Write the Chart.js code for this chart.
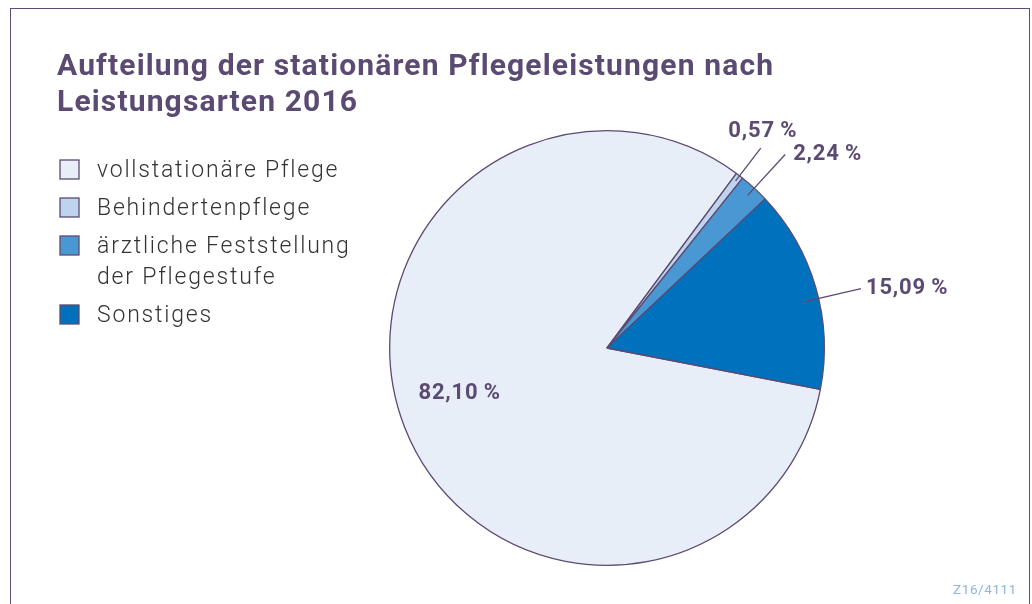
<!DOCTYPE html>
<html>
<head>
<meta charset="utf-8">
<script src="https://cdn.jsdelivr.net/npm/chart.js@4/dist/chart.umd.min.js"></script>
<style>
  body { margin: 0; background: #fff; }
  .wrap { position: relative; width: 1032px; height: 604px; }
  .frame { position: absolute; left: 10px; top: 8px; width: 1018px; height: 600px;
           border: 1.5px solid #5e4b78; border-bottom: none; }
  canvas { position: absolute; left: 0; top: 0; }
  .code { position: absolute; right: 15px; top: 581px; font: 13.5px Roboto, sans-serif;
          letter-spacing: 0.6px; color: #8fb4e0; }
</style>
</head>
<body>
<div class="wrap">
  <div class="frame"></div>
  <canvas id="myChart" width="1032" height="604"></canvas>
  <div class="code">Z16/4111</div>
</div>
<script>
const titleLines = ['Aufteilung der stationären Pflegeleistungen nach', 'Leistungsarten 2016'];
const categories = ['vollstationäre Pflege', 'Behindertenpflege', 'ärztliche Feststellung\nder Pflegestufe', 'Sonstiges'];
const shares = [82.10, 0.57, 2.24, 15.09];
const colors = ['#e8eef8', '#bed3ee', '#4a98d3', '#0071bc'];

const purple = '#5b4a72';

function fmt(v) {
  return v.toFixed(2).replace('.', ',') + '\u2009%';
}

// where each value label goes (inside or with a leader line)
const spots = [
  { inside: true, r: 0.71, turn: 4 },
  { r1: 0.97, r2: 1.16, dx: 2, dy: -17, align: 'center' },
  { r1: 0.955, r2: 1.21, dx: 8, dy: 0, align: 'left' },
  { r1: 0.93, r2: 1.2, dx: 5, dy: 0, align: 'left', turn: 3 }
];

const decor = {
  id: 'decor',
  afterDraw(chart) {
    const ctx = chart.ctx;
    ctx.save();

    // title
    ctx.fillStyle = purple;
    ctx.font = 'bold 30px Roboto';
    ctx.letterSpacing = '1.15px';
    ctx.textBaseline = 'middle';
    ctx.textAlign = 'left';
    titleLines.forEach((t, i) => ctx.fillText(t, 57, 67 + i * 36));

    // legend
    let y = 170;
    ctx.font = '300 23px Roboto';
    ctx.letterSpacing = '1.8px';
    categories.forEach((c, i) => {
      ctx.fillStyle = colors[i];
      ctx.fillRect(60, y - 10, 19, 19);
      ctx.strokeStyle = purple;
      ctx.lineWidth = 1.3;
      ctx.strokeRect(60, y - 10, 19, 19);
      ctx.fillStyle = '#333333';
      const parts = c.split('\n');
      parts.forEach((p, j) => ctx.fillText(p, 97, y + 1.5 + j * 31));
      y += 38 + (parts.length - 1) * 31;
    });

    // value labels
    const arcs = chart.getDatasetMeta(0).data;
    ctx.font = 'bold 22px Roboto';
    ctx.letterSpacing = '0.8px';
    ctx.fillStyle = purple;
    ctx.strokeStyle = purple;
    ctx.lineWidth = 1.3;
    arcs.forEach((arc, i) => {
      const s = spots[i];
      const a = (arc.startAngle + arc.endAngle) / 2 + (s.turn || 0) * Math.PI / 180;
      const R = arc.outerRadius;
      const cx = arc.x, cy = arc.y;
      if (s.inside) {
        ctx.textAlign = 'center';
        ctx.fillText(fmt(shares[i]), cx + Math.cos(a) * R * s.r, cy + Math.sin(a) * R * s.r);
        return;
      }
      const x1 = cx + Math.cos(a) * R * s.r1, y1 = cy + Math.sin(a) * R * s.r1;
      const x2 = cx + Math.cos(a) * R * s.r2, y2 = cy + Math.sin(a) * R * s.r2;
      ctx.beginPath();
      ctx.moveTo(x1, y1);
      ctx.lineTo(x2, y2);
      ctx.stroke();
      ctx.textAlign = s.align;
      ctx.fillText(fmt(shares[i]), x2 + s.dx, y2 + s.dy);
    });
    ctx.restore();
  }
};

const ctx = document.getElementById('myChart');
new Chart(ctx, {
  type: 'pie',
  data: {
    labels: categories,
    datasets: [{
      data: shares,
      backgroundColor: colors,
      borderColor: purple,
      borderWidth: 1.3
    }]
  },
  options: {
    responsive: false,
    animation: false,
    rotation: 101,
    layout: { padding: { left: 389, right: 207, top: 130, bottom: 38 } },
    plugins: {
      legend: { display: false },
      tooltip: { enabled: false }
    }
  },
  plugins: [decor]
});
</script>
</body>
</html>
